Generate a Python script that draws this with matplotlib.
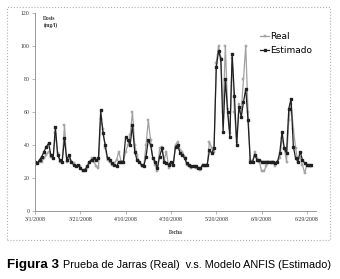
import datetime as dt
import matplotlib
matplotlib.use('Agg')
import matplotlib.pyplot as plt
import matplotlib.dates as mdates
from matplotlib.patches import Rectangle

start = dt.date(2008, 3, 1)

real = [28, 29, 30, 30, 32, 34, 36, 33, 32, 47, 35, 30, 30, 52, 30, 32, 30, 29, 27, 27,
        27, 24, 25, 26, 29, 32, 30, 27, 26, 56, 50, 38, 31, 30, 28, 29, 31, 36, 30, 30,
        36, 40, 46, 60, 40, 34, 30, 27, 27, 40, 55, 43, 32, 28, 24, 38, 39, 31, 36, 26,
        28, 28, 40, 42, 37, 36, 33, 28, 27, 26, 27, 26, 26, 25, 28, 27, 28, 42, 38, 36,
        90, 100, 93, 60, 100, 62, 47, 93, 60, 42, 65, 60, 80, 100, 60, 31, 30, 36, 32, 30,
        24, 24, 27, 30, 29, 30, 27, 30, 32, 44, 38, 30, 55, 65, 50, 38, 30, 33, 28, 23,
        28, 27, 27]
estimado = [30, 29, 31, 33, 36, 39, 41, 34, 32, 51, 34, 31, 30, 44, 31, 34, 30, 28, 27, 28,
            26, 25, 25, 27, 30, 31, 32, 31, 32, 61, 47, 40, 32, 31, 29, 28, 27, 30, 30, 30,
            45, 43, 40, 52, 36, 31, 30, 28, 27, 33, 43, 40, 32, 30, 26, 33, 38, 30, 29, 28,
            30, 28, 39, 40, 35, 34, 32, 29, 28, 27, 27, 27, 26, 26, 28, 28, 28, 37, 35, 38,
            87, 97, 92, 48, 80, 60, 45, 95, 70, 40, 63, 57, 66, 74, 55, 30, 30, 34, 31, 31,
            30, 30, 30, 30, 30, 30, 29, 30, 35, 48, 38, 35, 62, 68, 39, 32, 30, 36, 31, 29,
            28, 28, 28]
dates = [start + dt.timedelta(days=i) for i in range(len(real))]
tick_dates = [start + dt.timedelta(days=20 * i) for i in range(7)]

fig = plt.figure(figsize=(3.4, 2.79), dpi=100)
fig.patches.append(Rectangle((7 / 340, 1 - 240 / 279), 323 / 340, 233 / 279,
                             transform=fig.transFigure, fill=False,
                             edgecolor='#b0b0b0', linestyle=':', linewidth=0.8))

ax = fig.add_axes([35 / 340, 1 - 211 / 279, 281 / 340, 198 / 279])
ax.plot(dates, real, color='#a0a0a0', lw=0.9, marker='s', ms=1.6, mfc='#bbbbbb',
        mec='#8a8a8a', mew=0.3, label='Real')
ax.plot(dates, estimado, color='#202020', lw=0.9, marker='s', ms=1.6, mfc='#202020',
        mec='#202020', label='Estimado')

ax.set_ylim(0, 120)
ax.set_yticks(range(0, 121, 20))
ax.set_xlim(mdates.date2num(start), mdates.date2num(start) + 124)
ax.set_xticks(tick_dates)
ax.xaxis.set_major_formatter(mdates.DateFormatter('%-m/%-d/%Y'))
for s in ['top', 'right']:
    ax.spines[s].set_visible(False)
for s in ['left', 'bottom']:
    ax.spines[s].set_color('#999999')
    ax.spines[s].set_linewidth(0.7)
ax.tick_params(labelsize=4.2, length=2, width=0.5, color='#999999', pad=2,
               labelcolor='#333333')
for lbl in ax.get_xticklabels() + ax.get_yticklabels():
    lbl.set_family('Liberation Serif')

ax.text(0.03, 0.985, 'Dosis\n(mg/l)', transform=ax.transAxes, fontsize=4,
        fontweight='bold', family='Liberation Serif', va='top', ha='left',
        color='#333333', linespacing=1.3)
fig.text((35 + 316) / 2 / 340, 1 - 232 / 279, 'Fecha', fontsize=4, fontweight='bold',
         family='Liberation Serif', ha='center', va='center', color='#333333')

leg = ax.legend(loc='upper right', bbox_to_anchor=(1.0, 0.92), frameon=False,
                fontsize=6.5, handlelength=1.0, handletextpad=0.1, labelspacing=0.55,
                borderaxespad=0)

fig.text(7 / 340, 1 - 265 / 279, 'Figura 3', fontsize=9.6, fontweight='bold',
         family='Liberation Sans', ha='left', va='center')
fig.text(63 / 340, 1 - 265 / 279, 'Prueba de Jarras (Real)  v.s. Modelo ANFIS (Estimado)',
         fontsize=7.8, family='Liberation Sans', ha='left', va='center')

fig.savefig('out.png', dpi=100)
